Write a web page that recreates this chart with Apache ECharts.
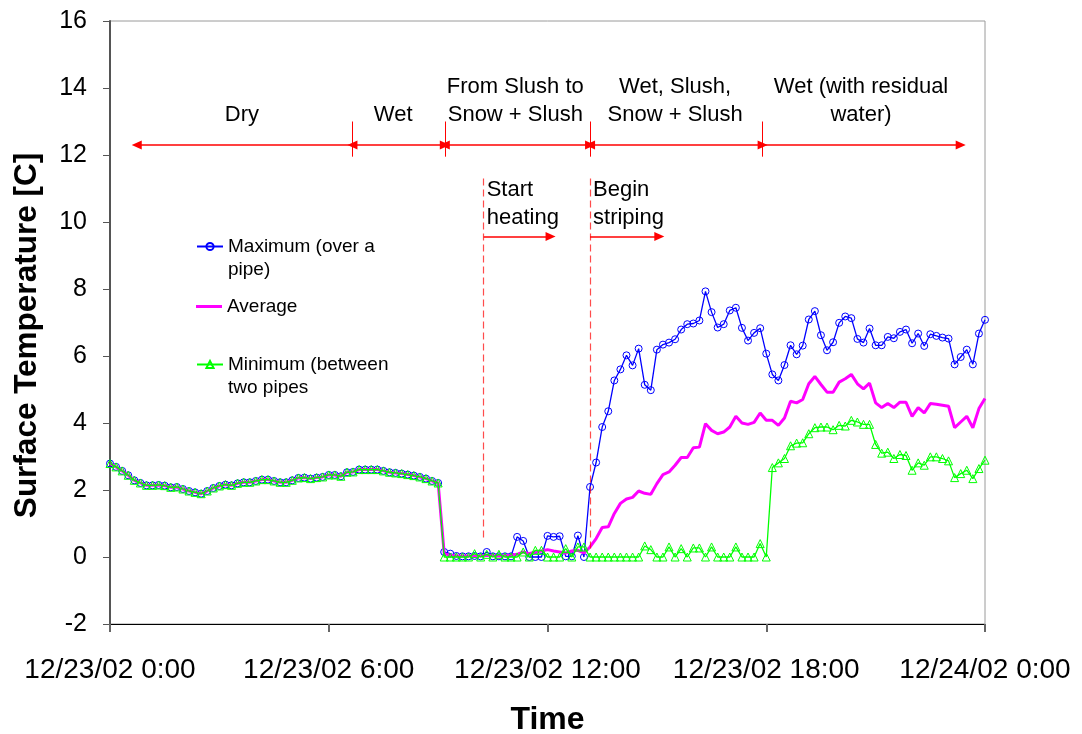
<!DOCTYPE html>
<html>
<head>
<meta charset="utf-8">
<script src="https://cdn.jsdelivr.net/npm/echarts@6/dist/echarts.min.js"></script>
<style>
  html, body { margin: 0; padding: 0; background: #fff; }
  #chart { width: 1082px; height: 734px; }
</style>
</head>
<body>
<div id="chart"></div>
<script>
// Surface temperature log, one reading every 10 minutes from 12/23/02 0:00 to 12/24/02 0:00.
const stepMinutes = 10;

// 0:00 - 9:00: all three sensors read the same (dry / wet pavement, no heating).
const sharedEarly = [2.79, 2.69, 2.57, 2.44, 2.29, 2.21, 2.14, 2.14, 2.15, 2.13, 2.08, 2.09, 2.03, 1.97, 1.93,
  1.89, 1.97, 2.06, 2.12, 2.16, 2.14, 2.20, 2.23, 2.23, 2.27, 2.31, 2.31, 2.27, 2.23, 2.23, 2.29, 2.36, 2.37,
  2.34, 2.37, 2.39, 2.45, 2.45, 2.41, 2.53, 2.54, 2.61, 2.61, 2.61, 2.61, 2.57, 2.53, 2.51, 2.49, 2.46, 2.43,
  2.39, 2.34, 2.27, 2.21];

// 9:10 - 24:00
const maxLate = [0.15, 0.10, 0.03, 0.02, 0.02, 0.03, 0.02, 0.15, 0.02, 0.02, 0.02, 0.02, 0.60, 0.48, 0, 0, 0,
  0.63, 0.60, 0.62, 0.02, 0.02, 0.64, 0,
  2.09, 2.82, 3.88, 4.35, 5.27, 5.60, 6.02, 5.72, 6.22, 5.14, 4.98, 6.19, 6.34, 6.40, 6.50, 6.79, 6.95, 6.97,
  7.06, 7.93, 7.31, 6.85, 6.95, 7.36, 7.44, 6.84, 6.46, 6.69, 6.83, 6.07, 5.45, 5.27, 5.73, 6.32, 6.05, 6.31,
  7.09, 7.34, 6.62, 6.17, 6.41, 6.99, 7.18, 7.13, 6.51, 6.40, 6.82, 6.32, 6.32, 6.57, 6.53, 6.72, 6.79, 6.38,
  6.67, 6.30, 6.65, 6.60, 6.55, 6.52, 5.75, 5.97, 6.19, 5.75, 6.67, 7.08];

const avgLate = [0.10, 0.05, 0.03, 0.03, 0.03, 0.04, 0.03, 0.05, 0.04, 0.03, 0.04, 0.05, 0.08, 0.15, 0.10, 0.15,
  0.18, 0.22, 0.18, 0.15, 0.12, 0.18, 0.20, 0.12,
  0.30, 0.55, 0.88, 0.90, 1.30, 1.60, 1.73, 1.78, 1.97, 1.90, 1.87, 2.19, 2.46, 2.54, 2.74, 2.97, 2.97, 3.26,
  3.28, 3.98, 3.78, 3.68, 3.73, 3.88, 4.20, 4.00, 3.96, 4.02, 4.30, 4.08, 4.08, 3.93, 4.15, 4.65, 4.60, 4.70,
  5.17, 5.39, 5.15, 4.92, 4.92, 5.22, 5.32, 5.45, 5.17, 5.02, 5.19, 4.60, 4.46, 4.58, 4.46, 4.62, 4.62, 4.20,
  4.46, 4.30, 4.58, 4.56, 4.53, 4.50, 3.86, 4.03, 4.20, 3.86, 4.43, 4.73];

const minLate = [0, 0, 0, 0, 0, 0.10, 0, 0.08, 0, 0.08, 0, 0, 0, 0.15, 0, 0.20, 0.20, 0, 0, 0, 0.25, 0, 0.30, 0.30,
  0, 0, 0, 0, 0, 0, 0, 0, 0,
  0.33, 0.22, 0, 0, 0.30, 0, 0.25, 0, 0.27, 0.27, 0, 0.30, 0, 0, 0, 0.30, 0, 0, 0, 0.40, 0,
  2.67, 2.81, 2.94, 3.32, 3.40, 3.41, 3.68, 3.86, 3.88, 3.88, 3.80, 3.93, 3.91, 4.08, 4.03, 3.96, 3.96, 3.36,
  3.10, 3.13, 2.94, 3.06, 3.03, 2.59, 2.81, 2.74, 2.99, 2.99, 2.94, 2.87, 2.37, 2.49, 2.59, 2.34, 2.64, 2.89];

const maxTemp = sharedEarly.concat(maxLate);
const avgTemp = sharedEarly.concat(avgLate);
const minTemp = sharedEarly.concat(minLate);

const seriesNames = ['Maximum (over a\npipe)', 'Average', 'Minimum (between\ntwo pipes'];
const xTickLabels = ['12/23/02 0:00', '12/23/02 6:00', '12/23/02 12:00', '12/23/02 18:00', '12/24/02 0:00'];

// Surface-condition phases (minutes from start) and their captions
const phaseBounds = [44, 399, 551, 790, 1074, 1400];
const phaseCaptions = ['Dry', 'Wet', 'From Slush to\nSnow + Slush', 'Wet, Slush,\nSnow + Slush', 'Wet (with residual\nwater)'];
const phaseCaptionX = [217, 466, 667, 930, 1236];
const phaseArrowY = 12.3;

// Operational events: time, caption, end of the "from here on" arrow, bottom of the marker line
const eventTimes = [615, 790];
const eventCaptions = ['Start\nheating', 'Begin\nstriping'];
const eventArrowEnds = [725, 904];
const eventLineBottoms = [0.5, 0.2];
const eventLineTop = 11.3;
const eventArrowY = 9.57;

const FONT = "'Liberation Sans', Arial, Helvetica, sans-serif";
const RED = '#ff0000';
const ARROW = [9, 10];

function pairs(values) {
  return values.map((v, i) => [i * stepMinutes, v]);
}

// Arrows, phase ticks and dashed event markers, all in data coordinates.
// The first phase only points back to the start, the last only points forward.
const markLines = [];
const nPhases = phaseCaptions.length;
for (let i = 0; i < nPhases; i++) {
  markLines.push([
    { coord: [phaseBounds[i], phaseArrowY], symbol: i === nPhases - 1 ? 'none' : 'triangle', symbolSize: ARROW },
    { coord: [phaseBounds[i + 1], phaseArrowY], symbol: i === 0 ? 'none' : 'triangle', symbolSize: ARROW }
  ]);
}
for (let i = 1; i < phaseBounds.length - 1; i++) {
  markLines.push([
    { coord: [phaseBounds[i], 11.95], symbol: 'none' },
    { coord: [phaseBounds[i], 13.0], symbol: 'none', lineStyle: { width: 1 } }
  ]);
}
eventTimes.forEach((t, i) => {
  markLines.push([
    { coord: [t, eventLineTop], symbol: 'none' },
    { coord: [t, eventLineBottoms[i]], symbol: 'none', lineStyle: { type: [7, 4], width: 1.2, color: 'rgba(255,0,0,0.7)' } }
  ]);
  markLines.push([
    { coord: [t, eventArrowY], symbol: 'none' },
    { coord: [eventArrowEnds[i], eventArrowY], symbol: 'triangle', symbolSize: ARROW }
  ]);
});

const chart = echarts.init(document.getElementById('chart'), null, { renderer: 'canvas' });

const legendText = { fontFamily: FONT, fontSize: 19, lineHeight: 23, color: '#000' };
const legendBase = {
  orient: 'vertical',
  left: 196,
  padding: 0,
  itemWidth: 26,
  itemHeight: 9,
  itemGap: 0,
  selectedMode: false,
  textStyle: legendText
};
// two-line entries: keep the first line level with the key line
const firstLineOnKey = (name) => '\n' + name;

chart.setOption({
  animation: false,
  backgroundColor: '#fff',
  grid: {
    left: 110, right: 97, top: 21, bottom: 110,
    outerBoundsMode: 'none',
    containLabel: false,
    show: true, borderColor: '#9a9a9a', borderWidth: 1, backgroundColor: 'transparent'
  },
  legend: [
    Object.assign({}, legendBase, { top: 212, data: [seriesNames[0]], formatter: firstLineOnKey }),
    Object.assign({}, legendBase, { top: 295, data: [seriesNames[1]], icon: 'rect', itemHeight: 3 }),
    Object.assign({}, legendBase, { top: 330, data: [seriesNames[2]], formatter: firstLineOnKey })
  ],
  xAxis: {
    type: 'value',
    min: 0, max: 1440, interval: 360,
    name: 'Time',
    nameLocation: 'middle',
    nameGap: 80,
    nameTextStyle: { fontFamily: FONT, fontSize: 32, fontWeight: 'bold', color: '#000', lineHeight: 32 },
    axisLine: { onZero: false, lineStyle: { color: '#000', width: 1 } },
    axisTick: { show: true, inside: false, length: 8, lineStyle: { color: '#666', width: 2 } },
    axisLabel: {
      margin: 32, fontFamily: FONT, fontSize: 28, lineHeight: 28, color: '#000',
      formatter: (v) => xTickLabels[Math.round(v / 360)]
    },
    splitLine: { show: false }
  },
  yAxis: {
    type: 'value',
    min: -2, max: 16, interval: 2,
    name: 'Surface Temperature [C]',
    nameLocation: 'middle',
    nameGap: 67,
    nameRotate: 90,
    nameTextStyle: {
      fontFamily: FONT, fontSize: 31.5, fontWeight: 'bold', color: '#000', lineHeight: 32,
      padding: [0, 26, 0, 0]
    },
    axisLine: { show: true, lineStyle: { color: '#555', width: 2 } },
    axisTick: { show: true, inside: false, length: 7, lineStyle: { color: '#555', width: 1 } },
    axisLabel: { margin: 23, fontFamily: FONT, fontSize: 25, color: '#000' },
    splitLine: { show: false }
  },
  series: [
    {
      name: seriesNames[0],
      type: 'line',
      data: pairs(maxTemp),
      symbol: 'circle', symbolSize: 7, showSymbol: true, showAllSymbol: true,
      lineStyle: { color: '#0000ff', width: 1.3 },
      itemStyle: { color: 'rgba(255,255,255,0)', borderColor: '#0000ff', borderWidth: 1 },
      emphasis: { disabled: true },
      z: 2
    },
    {
      name: seriesNames[1],
      type: 'line',
      data: pairs(avgTemp),
      symbol: 'none', showSymbol: false,
      lineStyle: { color: '#ff00ff', width: 3 },
      itemStyle: { color: '#ff00ff' },
      emphasis: { disabled: true },
      z: 3
    },
    {
      name: seriesNames[2],
      type: 'line',
      data: pairs(minTemp),
      symbol: 'triangle', symbolSize: 8, showSymbol: true, showAllSymbol: true,
      lineStyle: { color: '#00ff00', width: 1.3 },
      itemStyle: { color: 'rgba(255,255,255,0)', borderColor: '#00ff00', borderWidth: 1 },
      emphasis: { disabled: true },
      z: 4
    },
    {
      name: 'annotations',
      type: 'line',
      data: [],
      silent: true,
      itemStyle: { color: RED },
      lineStyle: { color: RED },
      markLine: {
        silent: true,
        animation: false,
        symbol: ['none', 'none'],
        label: { show: false },
        emphasis: { disabled: true },
        itemStyle: { color: RED },
        lineStyle: { color: RED, width: 1.5, type: 'solid' },
        data: markLines
      },
      z: 5
    }
  ]
});

// Captions for the phases and events, placed from data coordinates
const px = (t, v) => chart.convertToPixel({ gridIndex: 0 }, [t, v]);
const graphics = [];
phaseCaptions.forEach((text, i) => {
  const p = px(phaseCaptionX[i], 12.77);
  graphics.push({
    type: 'text', x: p[0], y: p[1], silent: true,
    style: { text, font: '22px ' + FONT, fill: '#000', align: 'center', verticalAlign: 'bottom', lineHeight: 28 }
  });
});
eventCaptions.forEach((text, i) => {
  const p = px(eventTimes[i], 11.38);
  graphics.push({
    type: 'text', x: p[0] + 3, y: p[1], silent: true,
    style: { text, font: '22px ' + FONT, fill: '#000', align: 'left', verticalAlign: 'top', lineHeight: 28 }
  });
});
chart.setOption({ graphic: graphics });
</script>
</body>
</html>
